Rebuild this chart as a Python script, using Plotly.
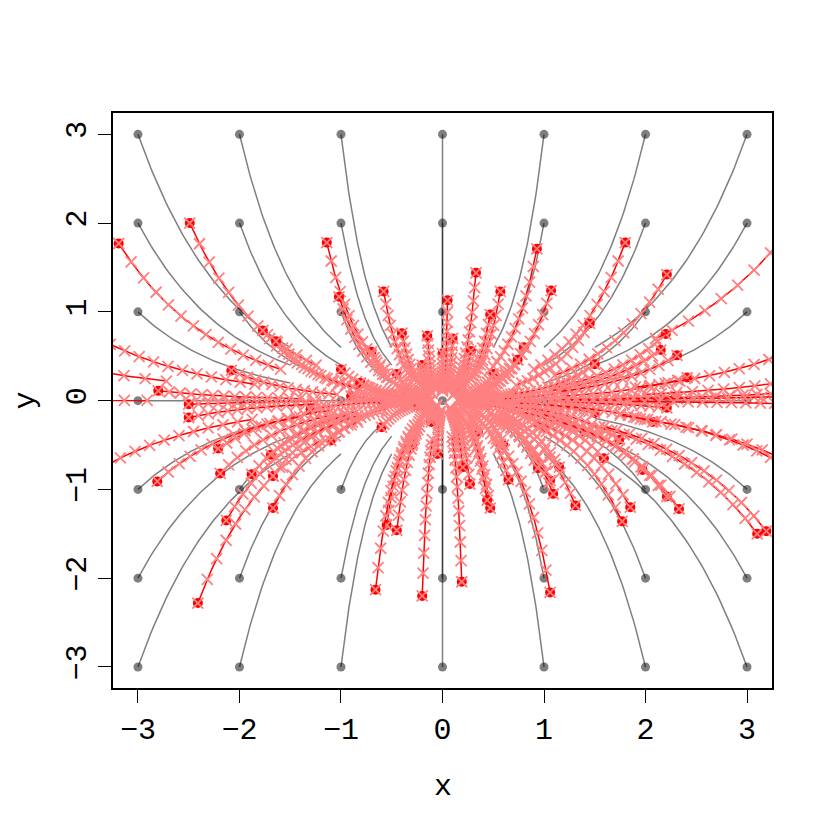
import numpy as np
import plotly.graph_objects as go

# grid of starting points for the grey reference trajectories
grid_x = [-3, -2, -1, 0, 1, 2, 3]
grid_y = [-3, -2, -1, 0, 1, 2, 3]

# starting points of the red trajectories.
# the first group sits in the crowded middle and is mostly buried under later markers,
# the last group starts outside the frame.
start_x = [
    -0.90, -0.60, -0.35, -0.25, 0.30, 0.45, 0.70, 0.90, 0.20, -0.20, 0.15, -0.30, 0.35, -0.45,
    0.50, 0.60, -0.60, 0.10, -0.05, 1.20, -1.30, 1.00, -1.00, -0.70, 0.80, 1.40, -1.10,
    -3.19, -2.49, -1.14, -1.02, -0.58, -0.40, -0.15, 0.00, 0.05, -1.77, -1.64, -2.08, -2.80, -2.50, -0.81,
    -2.50, -2.21, -2.81, -2.19, -1.69, -1.88, -1.67, -2.13, -1.67, -2.41, -0.55, -0.45, -0.66, -0.20, -0.11,
    0.33, 0.57, 0.47, 0.93, 1.07, 1.80, 2.21, 1.45, 2.20, 2.15, 2.31, 2.41, 1.50, 0.74, 0.28, 2.30, 2.14, 2.21,
    1.50, 2.07, 1.74, 1.59, 1.97, 2.21, 2.33, 1.85, 1.77, 3.10, 3.19, 1.15, 0.94, 1.06, 1.09, 1.31, 0.65,
    0.47, 0.44, 0.27, 0.20, 0.19, 1.06,
    4.20, 3.80, 4.00, 3.50, 4.30, 3.70, 3.90, 3.50, -3.70, -5.44, -5.82, -3.75,
]
start_y = [
    0.05, -0.03, 0.08, -0.05, 0.04, -0.05, 0.08, -0.03, 0.30, 0.40, -0.40, -0.50, -0.35, 0.30,
    0.30, -0.50, -0.30, 0.70, -0.60, 0.10, -0.10, -0.30, 0.35, 0.55, 0.60, -0.35, -0.45,
    1.77, 2.00, 1.78, 1.17, 1.23, 0.76, 0.73, 0.53, 1.13, 0.79, 0.67, 0.34, 0.11, -0.04, 0.20,
    -0.19, -0.54, -0.91, -0.82, -0.61, -0.83, -0.85, -1.35, -1.21, -2.28, -1.40, -1.46, -2.13, -2.20, -0.24,
    1.44, 1.23, 0.97, 1.71, 1.24, 1.78, 1.42, 0.87, 0.75, 0.57, 0.51, 0.26, 0.41, 0.46, 0.56, 0.05, 0.01, -0.08,
    -0.14, -0.24, -0.44, -0.65, -0.78, -1.08, -1.22, -1.20, -1.36, -1.50, -1.47, -0.75, -0.76, -0.90, -1.05, -1.18, -0.89,
    -1.21, -1.12, -0.94, -0.75, -2.04, -2.16,
    3.50, 0.76, 0.35, 0.10, 0.09, -0.045, -1.03, -0.82, 0.92, 1.10, 0.01, -1.06,
]

X_END = 0.5   # x shrinks linearly to half its start value
Y_END = 0.2   # y shrinks geometrically to a fifth
N_STEPS = 13


def trajectory(x0, y0, n):
    t = np.linspace(0, 1, n + 1)
    return x0 * (1 - (1 - X_END) * t), y0 * Y_END ** t


fig = go.Figure()

grey = "rgba(0,0,0,0.5)"
for gx in grid_x:
    for gy in grid_y:
        tx, ty = trajectory(gx, gy, 60)
        fig.add_trace(go.Scatter(x=tx, y=ty, mode="lines", line=dict(color=grey, width=1.5),
                                 hoverinfo="skip", showlegend=False))
        fig.add_trace(go.Scatter(x=[gx], y=[gy], mode="markers",
                                 marker=dict(color=grey, size=9, line_width=0),
                                 hoverinfo="skip", showlegend=False))

for sx, sy in zip(start_x, start_y):
    tx, ty = trajectory(sx, sy, 60)
    mx, my = trajectory(sx, sy, N_STEPS)
    fig.add_trace(go.Scatter(x=[sx], y=[sy], mode="markers",
                             marker=dict(color="#ff0000", size=10, line_width=0),
                             hoverinfo="skip", showlegend=False))
    fig.add_trace(go.Scatter(x=tx, y=ty, mode="lines", line=dict(color="#ff0000", width=1.5),
                             hoverinfo="skip", showlegend=False))
    fig.add_trace(go.Scatter(x=mx, y=my, mode="markers",
                             marker=dict(symbol="x-thin", size=11, color="#ff8080",
                                         line=dict(color="#ff8080", width=1.8)),
                             hoverinfo="skip", showlegend=False))

axis_font = dict(family="Liberation Mono, Courier New, monospace", size=30, color="black")
fig.update_xaxes(
    range=[-3.246, 3.246], tickvals=[-3, -2, -1, 0, 1, 2, 3], ticks="outside", ticklen=13,
    tickwidth=1.3, tickcolor="black", showline=True, mirror=True, linecolor="black", linewidth=1.5,
    showgrid=False, zeroline=False, tickfont=axis_font,
)
fig.update_yaxes(
    range=[-3.237, 3.24], tickvals=[-3, -2, -1, 0, 1, 2, 3], ticks="outside", ticklen=13,
    tickwidth=1.3, tickcolor="black", showline=True, mirror=True, linecolor="black", linewidth=1.5,
    showgrid=False, zeroline=False, tickfont=axis_font, tickangle=-90,
)
fig.add_annotation(text="x", xref="paper", yref="paper", x=0.5, y=0, yanchor="middle",
                   yshift=-99, showarrow=False, font=axis_font)
fig.add_annotation(text="y", xref="paper", yref="paper", x=0, y=0.5, xanchor="center",
                   xshift=-88, textangle=-90, showarrow=False, font=axis_font)

# the page body adds an 8px margin, so the figure is 16px smaller than the window
fig.update_layout(
    width=814, height=814,
    margin=dict(l=105, r=50, t=105, b=134),
    paper_bgcolor="white", plot_bgcolor="white",
    showlegend=False,
)

fig.write_html("out.html")
